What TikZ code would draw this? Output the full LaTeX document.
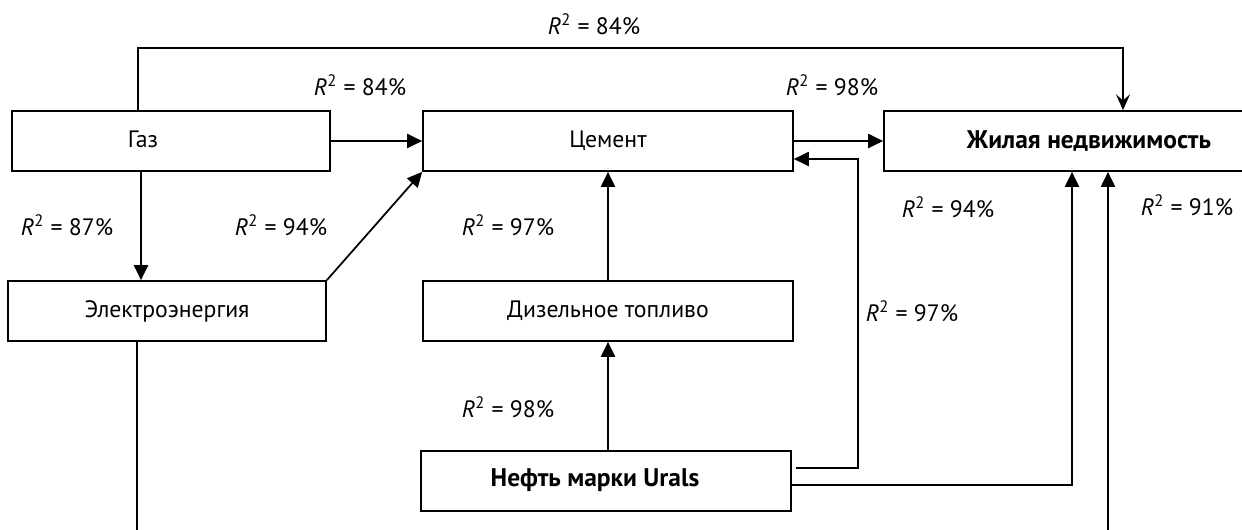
\documentclass[tikz,border=0pt]{standalone}
\usepackage{fontspec}
\setmainfont{PT Sans}
\usetikzlibrary{positioning, arrows.meta, calc}

\newcommand{\rsq}[1]{\textit{R}\textsuperscript{2} = #1\%}
\newcommand{\boldlab}[1]{{\fontsize{14.5}{16}\selectfont\bfseries #1}}

\begin{document}
\begin{tikzpicture}[x=0.02cm, y=-0.02cm, line width=1pt,
    font=\fontsize{13.5}{15}\selectfont,
    box/.style={draw, minimum height=1.2cm, inner sep=0pt},
    arr/.style={-{Triangle[length=8.5pt, width=8pt]}},
    arrv/.style={-{Stealth[length=9pt, width=8pt, inset=3.5pt]}}]

    \useasboundingbox (0,0) rectangle (1242,529);
    \clip (0,0) rectangle (1242,529);

    % boxes
    \node[box, minimum width=6.36cm] (gas) at (171,141) {};
    \node (gastext) at (143,139) {Газ};
    \node[box, minimum width=7.4cm] (cement) at (608,141) {Цемент};
    \node[box, minimum width=8.2cm] (housing) at (1089,141) {\boldlab{Жилая недвижимость}};
    \node[box, minimum width=6.36cm] (power) at (167,311) {Электроэнергия};
    \node[box, minimum width=7.4cm] (diesel) at (608,311) {Дизельное топливо};
    \node[box, minimum width=7.4cm] (oil) at (606,481) {};
    \node (oiltext) at (595,480) {\boldlab{Нефть марки Urals}};

    \coordinate (gasdown) at ($(gas.south)+(-30,0)$);

    % connectors
    \draw[arrv] ($(gas.north)+(-33,0)$) -- ++(0,-62) -| ($(housing.north)+(34,0)$);
    \draw[arr] (gas.east) -- (cement.west);
    \draw[arr] (gasdown) -- (gasdown |- power.north);
    \draw[arr] (power.north east) -- (cement.south west);
    \draw[arr] (diesel.north) -- (cement.south);
    \draw[arr] (oil.north -| diesel.south) -- (diesel.south);
    \draw[arr] (cement.east) -- (housing.west);
    \draw[arr] ($(oil.east)+(4,-13)$) -| ($(cement.east)+(64,18)$) -- ($(cement.east)+(0,18)$);
    \draw[arr] ($(oil.east)+(0,4)$) -| ($(housing.south)+(-17,0)$);
    \draw[arr] ($(power.south)+(-30,0)$) -- ++(0,250) -| ($(housing.south)+(19,0)$);

    % labels
    \node (rtop) at (594,24) {\rsq{84}};
    \node (rgc) at (360,85) {\rsq{84}};
    \node (rch) at (832,85) {\rsq{98}};
    \node (rgp) at (67,225) {\rsq{87}};
    \node (rpc) at (281,225) {\rsq{94}};
    \node (rdc) at (508,225) {\rsq{97}};
    \node (roh) at (948,207) {\rsq{94}};
    \node (rph) at (1187,205) {\rsq{91}};
    \node (roc) at (912,311) {\rsq{97}};
    \node (rod) at (508,407) {\rsq{98}};
\end{tikzpicture}
\end{document}
